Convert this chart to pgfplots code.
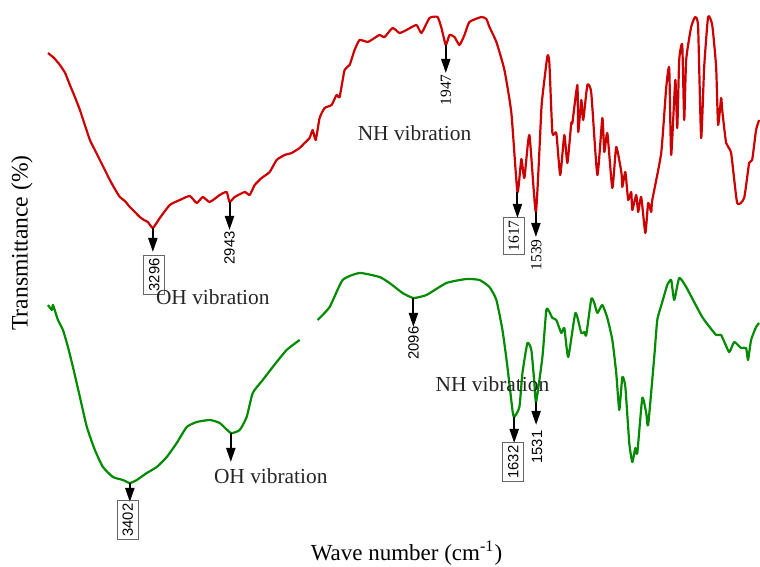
\documentclass[border=0pt]{standalone}
\usepackage{pgfplots}
\pgfplotsset{compat=1.18}
\usepackage{fontspec}
\setmainfont{Liberation Serif}
\newfontfamily\arial{Liberation Sans}
\usetikzlibrary{arrows.meta}
\definecolor{specred}{RGB}{204,0,0}
\definecolor{specgreen}{RGB}{0,139,0}
\begin{document}
\begin{tikzpicture}
\useasboundingbox (0,0) rectangle (380pt,283.5pt);
\begin{axis}[scale only axis, width=380pt, height=283.5pt,
  xmin=500, xmax=4000, x dir=reverse, ymin=0, ymax=567,
  hide axis, clip=false]
% red spectrum
\addplot[specred, line width=1.1pt, line join=round, smooth, tension=0.3] coordinates {
(3779,514)(3751,509)(3724,502)(3700,494)(3678,482)(3655,470)(3632,457)(3609,442)(3586,427)(3563,417)(3540,407)(3517,397)(3494,387)(3471,378)(3448,370)(3425,366)(3402,360)(3379,355)(3356,350)(3337,347)(3319,345)(3296,339)
(3264,349)(3218,362)(3172,367)(3126,371)(3094,364)(3066,370)(3034,365)(2988,372)(2956,375)(2943,365)(2919,370)(2873,375)
(2850,372)(2827,382)(2795,389)(2758,395)(2726,407)(2689,412)(2657,414)(2620,419)(2597,424)(2574,429)(2560,437)(2546,427)
(2528,449)(2505,459)(2473,462)(2450,472)(2436,470)(2413,497)(2390,502)(2367,517)(2344,527)(2307,525)(2275,529)(2252,532)
(2229,530)(2192,539)(2160,534)(2128,537)(2082,542)(2059,534)(2022,549)(1985,550)(1967,539)(1947,522)(1930,532)(1907,530)
(1884,522)(1861,532)(1838,545)(1783,550)(1760,548)(1746,540)(1714,525)(1677,497)(1645,454)(1617,375)(1599,408)(1585,389)(1562,432)
(1532,355)(1507,457)(1500,474)(1479,511)(1470,504)(1456,434)(1438,434)(1420,392)(1401,432)(1387,404)(1369,444)(1364,444)(1341,482)
(1337,435)(1323,467)(1314,447)(1295,482)(1277,474)(1249,392)(1226,449)(1217,415)(1203,434)(1180,379)(1162,420)(1138,394)(1134,380)
(1120,395)(1107,367)(1093,375)(1088,357)(1070,372)(1061,355)(1047,370)(1028,334)(1015,364)(1001,355)(996,367)(955,414)
(932,479)(918,499)(909,412)(890,487)(881,439)(872,507)(858,522)(849,447)(840,507)(817,540)(798,550)(785,540)(771,429)
(757,500)(739,550)(720,542)(702,500)(693,442)(679,469)(674,457)(656,424)(633,414)(605,364)(573,369)(550,404)(536,407)
(518,437)(504,447)
};
% green spectrum (two parts)
\addplot[specgreen, line width=1.1pt, line join=round, smooth, tension=0.3] coordinates {
(3779,262)(3761,257)(3756,262)(3733,247)(3710,237)(3687,220)(3664,200)(3632,170)(3600,140)(3563,117)(3526,100)(3480,90)
(3434,87)(3402,84)(3370,87)(3324,94)(3278,100)(3232,110)(3186,124)(3140,140)(3094,145)(3034,147)(2988,144)(2937,134)
(2896,137)(2864,150)(2836,174)(2790,187)(2744,200)(2680,217)(2620,227)
};
\addplot[specgreen, line width=1.1pt, line join=round, smooth, tension=0.3] coordinates {
(2537,247)(2482,260)(2422,287)(2344,294)(2252,290)(2206,284)(2146,274)(2096,269)(2036,272)(1944,284)(1852,288)(1792,287)
(1746,280)(1714,267)(1686,237)(1663,200)(1640,157)(1632,150)(1608,160)(1594,194)(1571,224)(1553,217)(1539,184)(1531,165)
(1502,210)(1484,257)(1470,255)(1456,249)(1438,247)(1415,234)(1401,239)(1383,210)(1350,254)(1323,234)(1309,235)(1300,232)(1277,268)
(1263,264)(1249,254)(1226,262)(1203,249)(1180,227)(1162,194)(1148,157)(1134,190)(1120,180)(1102,124)(1088,105)(1074,119)(1065,114)
(1042,169)(1024,154)(1015,142)(987,210)(973,247)(950,265)(927,282)(909,287)(895,267)(872,289)(840,280)(766,250)(702,232)
(679,232)(642,215)(619,225)(587,219)(564,219)(555,207)(541,227)(518,240)(504,244)
};
% arrows
\tikzset{pk/.style={-{Triangle[width=4.5pt,length=7pt]}, line width=1pt, black}}
\draw[pk] (axis cs:3296,339) -- (axis cs:3296,315);
\draw[pk] (axis cs:2943,365) -- (axis cs:2943,337);
\draw[pk] (axis cs:1947,522) -- (axis cs:1947,494);
\draw[pk] (axis cs:1617,375) -- (axis cs:1617,349);
\draw[pk] (axis cs:1532,355) -- (axis cs:1532,330);
\draw[pk] (axis cs:3402,84) -- (axis cs:3402,65);
\draw[pk] (axis cs:2937,134) -- (axis cs:2937,105);
\draw[pk] (axis cs:2096,269) -- (axis cs:2096,240);
\draw[pk] (axis cs:1632,150) -- (axis cs:1632,124);
\draw[pk] (axis cs:1531,165) -- (axis cs:1531,142);
% number labels
\tikzset{sn/.style={rotate=90, inner sep=1pt, font=\arial\fontsize{7.4}{8}\selectfont},
         rn/.style={rotate=90, inner sep=1pt, font=\fontsize{7.7}{8}\selectfont},
         bx/.style={draw=gray!80!black, line width=0.5pt, inner xsep=1.4pt, inner ysep=2.6pt}}
\node[sn,bx] at (axis cs:3289,292) {3296};
\node[sn] at (axis cs:2943,319) {2943};
\node[rn] at (axis cs:1947,477) {1947};
\node[rn,bx] at (axis cs:1633,331) {1617};
\node[rn] at (axis cs:1530,312) {1539};
\node[sn,bx] at (axis cs:3411,47) {3402};
\node[sn] at (axis cs:2096,224) {2096};
\node[sn,bx] at (axis cs:1636,105) {1632};
\node[sn] at (axis cs:1527,120) {1531};
% text labels
\tikzset{vt/.style={inner sep=0pt, font=\fontsize{10.7}{12}\selectfont, text=black!85}}
\node[vt] at (axis cs:3020,270) {OH vibration};
\node[vt] at (axis cs:2091,434) {NH vibration};
\node[vt] at (axis cs:2753,91) {OH vibration};
\node[vt] at (axis cs:1732,183) {NH vibration};
% axis labels
\node[rotate=90, inner sep=0pt, font=\fontsize{11.8}{13}\selectfont] at (axis cs:3899,324) {Transmittance (\%)};
\node[inner sep=0pt, font=\fontsize{11.5}{13}\selectfont] at (axis cs:2128,14) {Wave number (cm\textsuperscript{-1})};
\end{axis}
\end{tikzpicture}
\end{document}
